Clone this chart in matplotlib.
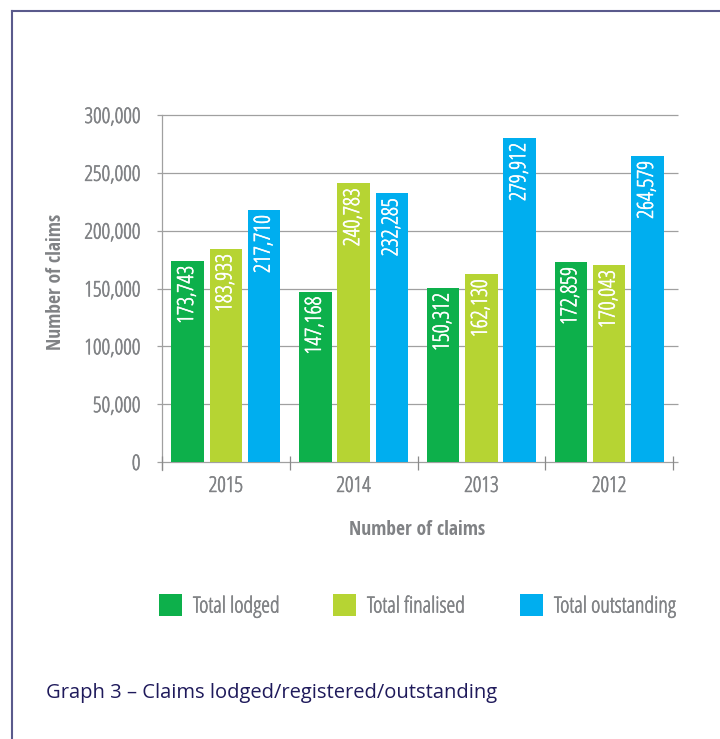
import numpy as np
import matplotlib
matplotlib.use("Agg")
import matplotlib.pyplot as plt
import matplotlib.patheffects as pe
from matplotlib.lines import Line2D
from matplotlib.patches import Patch

# --- data ---
years = ['2015', '2014', '2013', '2012']
total_lodged = [173743, 147168, 150312, 172859]
total_finalised = [183933, 240783, 162130, 170043]
total_outstanding = [217710, 232285, 279912, 264579]
series_names = ['Total lodged', 'Total finalised', 'Total outstanding']
y_ticks = [0, 50000, 100000, 150000, 200000, 250000, 300000]

# --- styling ---
GREEN = '#0db04b'
LIME = '#b6d433'
BLUE = '#00aeef'
GREY_TEXT = '#808285'
GRID = '#a0a0a0'
NAVY = '#1f1a5b'
FRAME = '#5a5a8c'

LIGHT = dict(family='Open Sans', stretch='condensed', weight='light')
BOLD = dict(family='Open Sans Condensed', weight='bold')


def thicken(color, lw=0.45):
    # light condensed face is a touch thin, give it a hairline outline
    return [pe.withStroke(linewidth=lw, foreground=color)]


W, H = 720, 739
fig = plt.figure(figsize=(W / 100, H / 100), dpi=100)
ax = fig.add_axes([162 / W, 1 - 462 / H, 511 / W, 347 / H])

x = np.arange(len(years))
offsets = [-0.30, 0.0, 0.30]
bar_w = 0.255
series = [total_lodged, total_finalised, total_outstanding]
colors = [GREEN, LIME, BLUE]

handles = []
for off, vals, col, name in zip(offsets, series, colors, series_names):
    bars = ax.bar(x + off, vals, width=bar_w, color=col, zorder=2)
    for rect, v in zip(bars, vals):
        ax.annotate(f"{v:,}", (rect.get_x() + rect.get_width() / 2, v),
                    xytext=(0, -3.5), textcoords='offset points',
                    rotation=90, ha='center', va='top', color='white',
                    fontsize=16, **LIGHT, zorder=3,
                    path_effects=thicken('white'))
    handles.append(Patch(facecolor=col, label=name))

ax.set_xlim(-0.5, len(years) - 0.5)
ax.set_ylim(0, 300000)
for s in ax.spines.values():
    s.set_visible(False)

ax.set_yticks(y_ticks)
ax.set_yticklabels([f"{v:,}" for v in y_ticks], fontsize=15.5, color=GREY_TEXT,
                   **LIGHT, path_effects=thicken(GREY_TEXT))
ax.set_xticks(x)
ax.set_xticklabels(years, fontsize=15.5, color=GREY_TEXT, **LIGHT,
                   path_effects=thicken(GREY_TEXT))
ax.tick_params(axis='y', length=0, pad=15.5)
ax.tick_params(axis='x', length=0, pad=10)

# gridlines slightly wider than the plot area, plus the axis line at zero
ext = 5 / 511
ax.hlines(y_ticks, -ext, 1 + ext, transform=ax.get_yaxis_transform(),
          colors=GRID, lw=0.9, clip_on=False, zorder=0)
ax.plot([0, 0], [-8 / 347, 1], transform=ax.transAxes, color=GRID,
        lw=0.9, clip_on=False, zorder=1)
ax.vlines(np.arange(len(years) + 1) - 0.5, -8 / 347, 6 / 347,
          transform=ax.get_xaxis_transform(), colors='#8a8a8a', lw=0.9,
          clip_on=False, zorder=1)

ax.set_ylabel('Number of claims', fontsize=14, color=GREY_TEXT, **BOLD)
ax.yaxis.set_label_coords(-0.188, 0.52)
ax.set_xlabel('Number of claims', fontsize=14, color=GREY_TEXT, **BOLD)
ax.xaxis.set_label_coords(0.5, -0.168)

# legend entries laid out in one row
fs_leg = 16
leg_x = [159, 333, 520]
for h, lx in zip(handles, leg_x):
    leg = fig.legend(handles=[h], loc='center left',
                     bbox_to_anchor=(lx / W, 1 - 606 / H),
                     frameon=False, borderpad=0, borderaxespad=0,
                     handlelength=23 / (fs_leg * 100 / 72),
                     handleheight=24 / (fs_leg * 100 / 72),
                     handletextpad=11 / (fs_leg * 100 / 72),
                     prop=dict(size=fs_leg, **LIGHT), labelcolor=GREY_TEXT)
    for t in leg.get_texts():
        t.set_path_effects(thicken(GREY_TEXT))

fig.text(46 / W, 1 - 698 / H, 'Graph 3 – Claims lodged/registered/outstanding',
         va='baseline', ha='left', color=NAVY, fontsize=14.5, family='Open Sans')

# page frame (top and left edges)
fig.add_artist(Line2D([11.5 / W, 11.5 / W], [0, 1 - 11 / H], color=FRAME, lw=1.5))
fig.add_artist(Line2D([11.5 / W, 1], [1 - 11 / H, 1 - 11 / H], color=FRAME, lw=1.5))

fig.savefig('out.png', dpi=100)
